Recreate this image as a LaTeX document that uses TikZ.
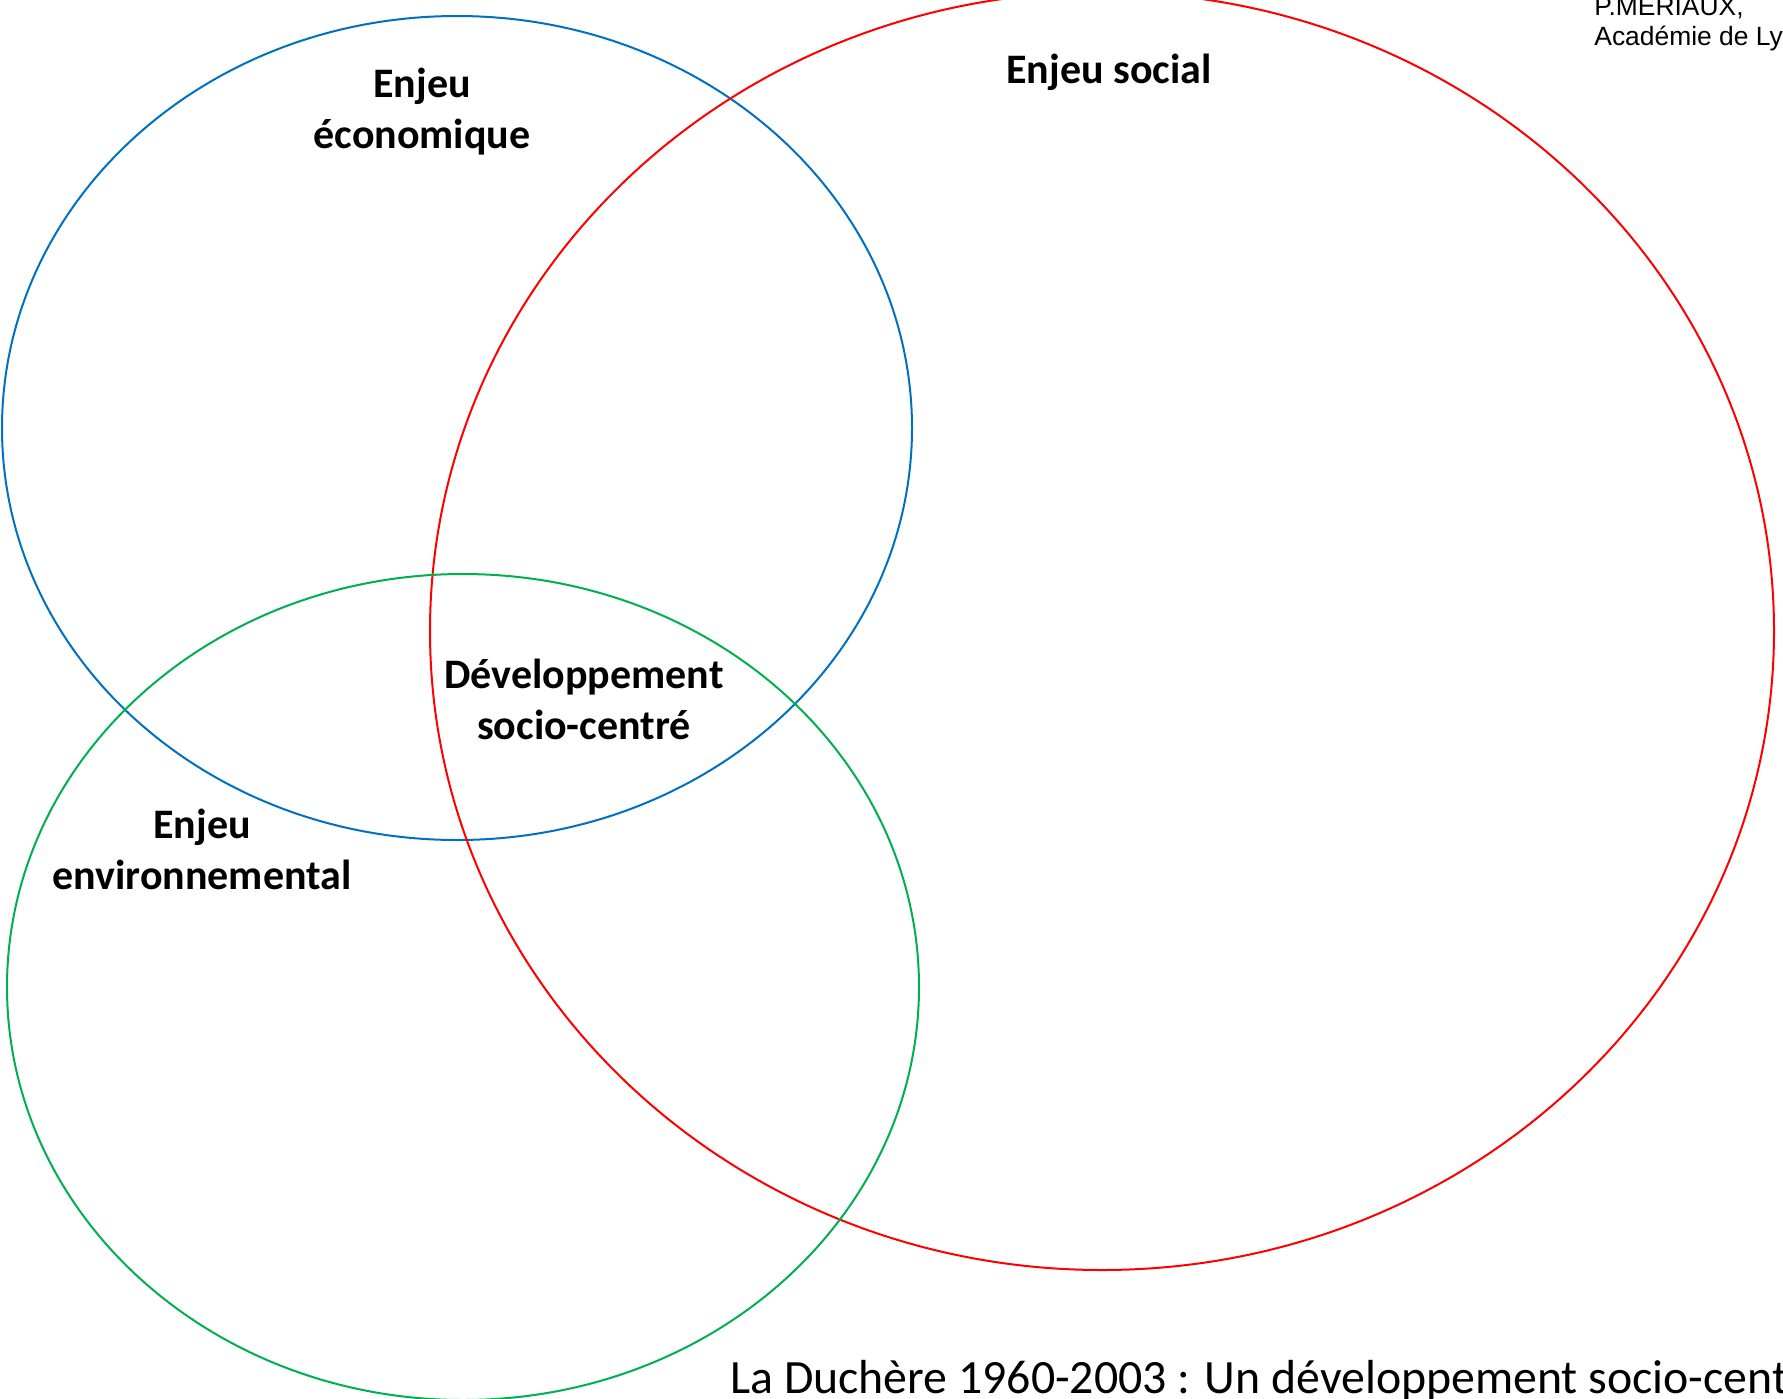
\documentclass[tikz,border=0pt]{standalone}
\usepackage{fontspec}
\setmainfont{Carlito}
\newfontfamily\arialfont{Liberation Sans}
\usetikzlibrary{shapes.geometric}
\definecolor{ecoblue}{RGB}{0,112,192}
\definecolor{socred}{RGB}{255,0,0}
\definecolor{envgreen}{RGB}{0,176,80}
\tikzset{
  venn/.style={ellipse, draw, line width=1pt, inner sep=0pt},
  lab/.style={font=\fontsize{21pt}{25.5pt}\selectfont\bfseries, align=center, inner sep=0pt},
  authtext/.style={anchor=base west, inner sep=0pt, font=\arialfont\fontsize{13.2pt}{15pt}\selectfont},
}
\begin{document}
\begin{tikzpicture}[x=0.5pt,y=-0.5pt]
\useasboundingbox (0,0) rectangle (1783,1398);
\node[venn, draw=ecoblue, minimum width=455pt, minimum height=412pt] (eco) at (457,428) {};
\node[venn, draw=socred, minimum width=672pt, minimum height=639pt] (soc) at (1102,631) {};
\node[venn, draw=envgreen, minimum width=456pt, minimum height=413pt] (env) at (463,987) {};
\node[lab] (teco) at (422,112) {Enjeu\\économique};
\node[lab] (tsoc) at (1109,72) {Enjeu social};
\node[lab] (tdev) at (584,699) {Développement\\socio-centré};
\node[lab] (tenv) at (202,849) {Enjeu\\environnemental};
\node[authtext] (auth1) at (1594,15) {P.MERIAUX,};
\node[authtext] (auth2) at (1594,45) {Académie de Lyon};
\node[anchor=base west, inner sep=0pt, font=\fontsize{23.9pt}{28pt}\selectfont] (title) at (730,1393) {La Duchère 1960-2003 : Un développement socio-centré};
\end{tikzpicture}
\end{document}
